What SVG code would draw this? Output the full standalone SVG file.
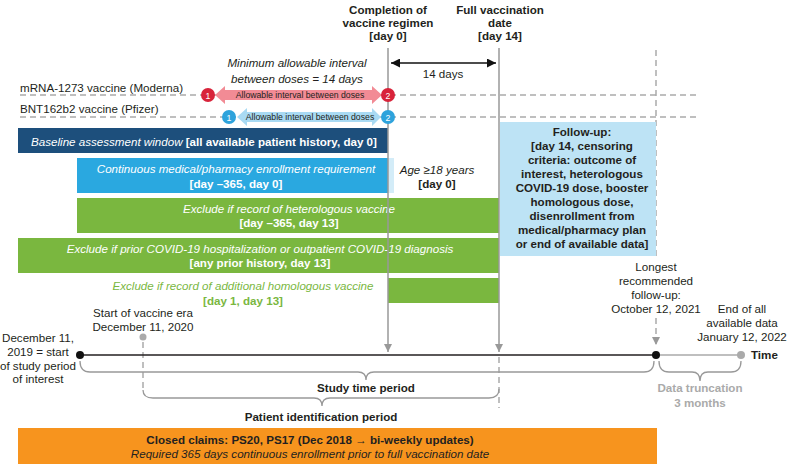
<svg xmlns="http://www.w3.org/2000/svg" width="787" height="464" viewBox="0 0 787 464">
<defs>
<style>
text{font-family:"Liberation Sans",Arial,sans-serif;font-size:11.6px;fill:#231f20}
.b{font-weight:bold}
.i{font-style:italic}
.c{text-anchor:middle}
.w{fill:#fff}
.g{fill:#aaa}
.gr{fill:#7ab73f}
.sm{font-size:8.7px}
.vl{stroke:#999;stroke-width:1.5;fill:none}
.dl{stroke:#aaa;stroke-width:1.5;stroke-dasharray:6 4;fill:none}
.br{stroke:#999;stroke-width:1.3;fill:none}
</style>
<marker id="ga" viewBox="0 0 10 10" refX="10" refY="5" markerWidth="10" markerHeight="8" markerUnits="userSpaceOnUse" orient="auto"><path d="M0,0L10,5L0,10z" fill="#999"/></marker>
<marker id="ba" viewBox="0 0 10 10" refX="10" refY="5" markerWidth="9" markerHeight="9" markerUnits="userSpaceOnUse" orient="auto-start-reverse"><path d="M0,0L10,5L0,10z" fill="#111"/></marker>
</defs>
<rect width="787" height="464" fill="#fff"/>

<g id="connectors">
<path class="dl" d="M20,95H700M20,117H700"/>
<path class="dl" d="M656,50V256"/>
<path class="dl" d="M656,318V345" marker-end="url(#ga)"/>
<path class="dl" d="M143,342V392"/>
<path class="dl" d="M499,357V408"/>
<path d="M391,63H496" stroke="#111" stroke-width="1.5" marker-start="url(#ba)" marker-end="url(#ba)"/>
<path d="M80,355H656" stroke="#231f20" stroke-width="1.6"/>
<path d="M656,355H741" stroke="#aaa" stroke-width="1.5"/>
<path class="br" d="M80,361Q80,372 90,372H358Q366,372 366,380Q366,372 374,372H644Q654,372 654,361"/>
<path class="br" d="M659,361Q659,372 669,372H692Q700,372 700,381Q700,372 708,372H731Q741,372 741,361"/>
<path class="br" d="M143,390Q143,398 153,398H314Q322,398 322,406Q322,398 330,398H489Q499,398 499,389"/>
</g>

<g id="bars">
<g id="baseline"><rect x="18" y="128" width="370" height="25" fill="#1d4f7c"/>
<text class="w" x="204" y="146" text-anchor="middle"><tspan class="i">Baseline assessment window </tspan><tspan class="b">[all available patient history, day 0]</tspan></text></g>
<g id="enrollment"><rect x="77" y="158" width="311" height="35" fill="#2aa8e0"/><rect x="388" y="158" width="6" height="35" fill="#d3ecf8"/>
<text class="w i c" x="236" y="173">Continuous medical/pharmacy enrollment requirement</text>
<text class="w b c" x="236" y="188">[day –365, day 0]</text></g>
<g id="heterologous"><rect x="77" y="198" width="422" height="35" fill="#7ab73f"/>
<text class="w i c" x="289" y="213">Exclude if record of heterologous vaccine</text>
<text class="w b c" x="289" y="227">[day –365, day 13]</text></g>
<g id="covid"><rect x="18" y="238" width="481" height="35" fill="#7ab73f"/>
<text class="w i c" x="260" y="253">Exclude if prior COVID-19 hospitalization or outpatient COVID-19 diagnosis</text>
<text class="w b c" x="260" y="267">[any prior history, day 13]</text></g>
<g id="homologous"><rect x="388" y="278" width="111" height="25" fill="#7ab73f"/>
<text class="gr i c" x="243" y="290">Exclude if record of additional homologous vaccine</text>
<text class="gr b c" x="243" y="305">[day 1, day 13]</text></g>
<g id="followup"><rect x="500" y="122" width="156" height="134" fill="#bde3f5"/>
<text class="b c" x="582" y="136">Follow-up:</text>
<text class="b c" x="582" y="150">[day 14, censoring</text>
<text class="b c" x="582" y="164">criteria: outcome of</text>
<text class="b c" x="582" y="178">interest, heterologous</text>
<text class="b c" x="582" y="192">COVID-19 dose, booster</text>
<text class="b c" x="582" y="206">homologous dose,</text>
<text class="b c" x="582" y="220">disenrollment from</text>
<text class="b c" x="582" y="234">medical/pharmacy plan</text>
<text class="b c" x="582" y="248">or end of available data]</text></g>
<g id="claims"><rect x="18" y="428" width="639" height="36" fill="#f7941e"/>
<text class="b c" x="310" y="444">Closed claims: PS20, PS17 (Dec 2018 → bi-weekly updates)</text>
<text class="i c" x="310" y="458">Required 365 days continuous enrollment prior to full vaccination date</text></g>
</g>

<g id="day-lines">
<path class="vl" d="M388,48V352" marker-end="url(#ga)"/>
<path class="vl" d="M499,48V352" marker-end="url(#ga)"/>
</g>

<g id="moderna">
<text x="20" y="92">mRNA-1273 vaccine (Moderna)</text>
<path d="M215,95L225,86V90H372V86L382,95L372,104V100H225V104Z" fill="#f28b95"/>
<text class="sm c" x="300" y="98">Allowable interval between doses</text>
<circle cx="208" cy="95" r="7" fill="#d8233a"/><text class="sm c w" x="208" y="98.5">1</text>
<circle cx="388" cy="95" r="7" fill="#d8233a"/><text class="sm c w" x="388" y="98.5">2</text>
</g>
<g id="pfizer">
<text x="20" y="113">BNT162b2 vaccine (Pfizer)</text>
<path d="M237,117L247,108V112H372V108L381,117L372,126V122H247V126Z" fill="#a9daf3"/>
<text class="sm c" x="310" y="120">Allowable interval between doses</text>
<circle cx="229" cy="117" r="7" fill="#2ea3dc"/><text class="sm c w" x="229" y="120.5">1</text>
<circle cx="388" cy="117" r="7" fill="#2ea3dc"/><text class="sm c w" x="388" y="120.5">2</text>
</g>

<g id="completion">
<text class="b c" x="388" y="14">Completion of</text>
<text class="b c" x="388" y="27">vaccine regimen</text>
<text class="b c" x="388" y="40">[day 0]</text>
</g>
<g id="fullvax">
<text class="b c" x="500" y="14">Full vaccination</text>
<text class="b c" x="500" y="27">date</text>
<text class="b c" x="500" y="40">[day 14]</text>
</g>
<g id="interval-note">
<text class="i c" x="297" y="67">Minimum allowable interval</text>
<text class="i c" x="297" y="83">between doses = 14 days</text>
<text class="c" x="443" y="78">14 days</text>
</g>
<g id="age">
<text class="i c" x="437" y="174">Age ≥18 years</text>
<text class="b c" x="437" y="188">[day 0]</text>
</g>

<g id="timeline">
<circle cx="80" cy="355" r="4" fill="#111"/>
<circle cx="143" cy="337" r="3.5" fill="#aaa"/>
<circle cx="656" cy="355" r="4" fill="#111"/>
<circle cx="741" cy="355" r="4" fill="#aaa"/>
<text class="b" x="751" y="359">Time</text>
</g>
<g id="study-start">
<text class="c" x="38" y="342">December 11,</text>
<text class="c" x="38" y="356">2019 = start</text>
<text class="c" x="38" y="370">of study period</text>
<text class="c" x="38" y="383">of interest</text>
</g>
<g id="vaccine-era">
<text class="c" x="143" y="317">Start of vaccine era</text>
<text class="c" x="143" y="331">December 11, 2020</text>
</g>
<g id="longest">
<text class="c" x="656" y="271">Longest</text>
<text class="c" x="656" y="285">recommended</text>
<text class="c" x="656" y="299">follow-up:</text>
<text class="c" x="656" y="313">October 12, 2021</text>
</g>
<g id="end-data">
<text class="c" x="742" y="313">End of all</text>
<text class="c" x="742" y="327">available data</text>
<text class="c" x="742" y="341">January 12, 2022</text>
</g>
<g id="periods">
<text class="b c" x="366" y="392">Study time period</text>
<text class="b c" x="321" y="421">Patient identification period</text>
<text class="b c g" x="700" y="392">Data truncation</text>
<text class="b c g" x="700" y="407">3 months</text>
</g>
</svg>
